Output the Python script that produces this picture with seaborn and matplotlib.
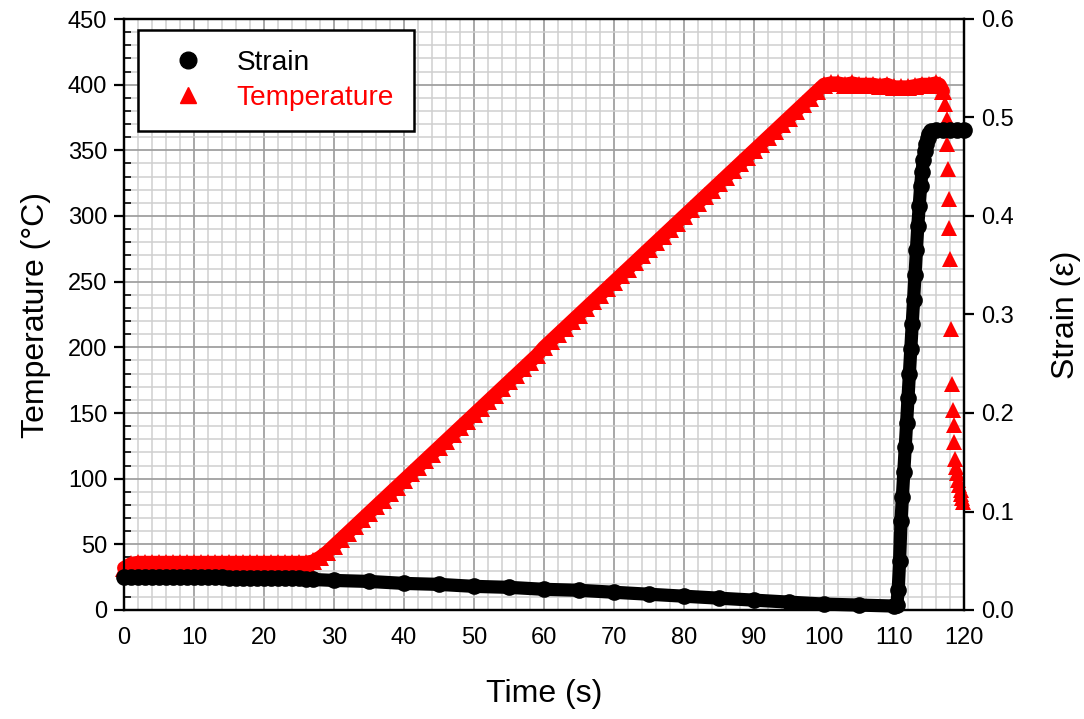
import matplotlib
matplotlib.use("Agg")
import matplotlib.pyplot as plt
from matplotlib.lines import Line2D
from matplotlib.ticker import MultipleLocator, FormatStrFormatter
import numpy as np
import pandas as pd
import seaborn as sns

# ---------------- data ----------------
temp_time = [0, 1, 2, 3, 4, 5, 6, 7, 8, 9, 10, 11, 12, 13, 14, 15, 16, 17, 18, 19,
             20, 21, 22, 23, 24, 25, 26, 27, 28, 29, 30, 31, 32, 33, 34, 35, 36, 37, 38, 39,
             40, 41, 42, 43, 44, 45, 46, 47, 48, 49, 50, 51, 52, 53, 54, 55, 56, 57, 58, 59,
             60, 61, 62, 63, 64, 65, 66, 67, 68, 69, 70, 71, 72, 73, 74, 75, 76, 77, 78, 79,
             80, 81, 82, 83, 84, 85, 86, 87, 88, 89, 90, 91, 92, 93, 94, 95, 96, 97, 98, 99,
             100, 101, 102, 103, 104, 105, 106, 107, 108, 109, 110, 111, 112, 113, 114, 115, 116,
             116.5, 117.0, 117.25, 117.5, 117.6, 117.7, 117.8, 117.9, 118.0, 118.2, 118.3,
             118.4, 118.5, 118.6, 118.75, 118.9, 119.0, 119.2, 119.35, 119.5, 119.6, 119.75, 119.85]
temp_vals = [32, 35, 36, 36, 36, 36, 36, 36, 36, 36, 36, 36, 36, 36, 36, 36, 36, 36, 36, 36,
             36, 36, 36, 36, 36, 36, 36, 37, 40, 44, 49, 54, 59, 64, 69, 74, 79, 84, 89, 94,
             99, 104, 109, 114, 119, 124, 129, 134, 139, 144, 149, 154, 159, 164, 169, 174, 179, 184, 189, 194,
             200, 205, 210, 215, 220, 225, 230, 235, 240, 245, 250, 255, 260, 265, 270, 275, 280, 285, 290, 295,
             300, 305, 310, 315, 320, 325, 330, 335, 340, 345, 350, 355, 360, 365, 370, 375, 380, 385, 390, 395,
             400, 401, 401, 400, 401, 400, 400, 400, 399, 400, 398, 398, 398, 399, 400, 400, 401,
             400, 395, 385, 374, 355, 336, 313, 291, 267, 214, 172,
             152, 141, 128, 115, 109, 104, 99, 95, 91, 88, 85, 82]

strain_time = [0, 1, 2, 3, 4, 5, 6, 7, 8, 9, 10, 11, 12, 13, 14, 15, 16, 17, 18, 19,
               20, 21, 22, 23, 24, 25, 26, 27, 30, 35, 40, 45, 50, 55, 60, 65, 70, 75, 80, 85,
               90, 95, 100, 105, 110, 110.4, 110.6, 110.8, 111.0, 111.2, 111.4, 111.6, 111.8,
               112.0, 112.2, 112.4, 112.6, 112.8, 113.0, 113.2, 113.4, 113.6, 113.8, 114.0,
               114.2, 114.4, 114.6, 114.8, 115.0, 115.3, 116, 117, 118, 119, 120]
strain_vals = [0.033, 0.033, 0.033, 0.033, 0.033, 0.033, 0.033, 0.033, 0.033, 0.033,
               0.033, 0.033, 0.033, 0.033, 0.033, 0.032, 0.032, 0.032, 0.032, 0.032,
               0.032, 0.032, 0.032, 0.032, 0.032, 0.032, 0.031, 0.031, 0.030, 0.029,
               0.027, 0.026, 0.024, 0.023, 0.021, 0.020, 0.018, 0.016, 0.014, 0.012,
               0.010, 0.008, 0.006, 0.005, 0.004, 0.005, 0.020, 0.050, 0.090, 0.115,
               0.140, 0.165, 0.190, 0.215, 0.240, 0.265, 0.290, 0.315, 0.340, 0.365,
               0.390, 0.410, 0.430, 0.445, 0.457, 0.466, 0.473, 0.479, 0.483, 0.486,
               0.487, 0.487, 0.487, 0.487, 0.487]

temp_df = pd.DataFrame({"Time": temp_time, "Temperature": temp_vals})
strain_df = pd.DataFrame({"Time": strain_time, "Strain": strain_vals})
# continuous part (dense band) and quench tail (separate triangles)
temp_band = temp_df[temp_df["Time"] <= 117.0]
temp_tail = temp_df[temp_df["Time"] >= 117.0]

# ---------------- style ----------------
sns.set_style("white")
plt.rcParams["font.family"] = ["Liberation Sans", "DejaVu Sans"]
plt.rcParams["text.color"] = "black"
plt.rcParams["axes.labelcolor"] = "black"

fig = plt.figure(figsize=(10.84, 7.19), dpi=100)
ax = fig.add_axes([124 / 1084, 1 - 610 / 719, 840 / 1084, 591 / 719])
ax2 = ax.twinx()

RED = "#ff0000"

sns.lineplot(data=temp_band, x="Time", y="Temperature", ax=ax, color=RED,
             marker="^", markersize=13, markeredgewidth=0, linewidth=10,
             sort=False, clip_on=False, zorder=3)
sns.lineplot(data=temp_tail, x="Time", y="Temperature", ax=ax, color=RED,
             marker="^", markersize=12, markeredgewidth=0, linestyle="none",
             sort=False, clip_on=False, zorder=3)
sns.lineplot(data=strain_df, x="Time", y="Strain", ax=ax2, color="black",
             marker="o", markersize=12, markeredgewidth=0, linewidth=9.5,
             sort=False, clip_on=False, zorder=3)

ax.set_xlim(0, 120)
ax.set_ylim(0, 450)
ax2.set_ylim(0, 0.6)

ax.xaxis.set_major_locator(MultipleLocator(10))
ax.xaxis.set_minor_locator(MultipleLocator(2))
ax.yaxis.set_major_locator(MultipleLocator(50))
ax.yaxis.set_minor_locator(MultipleLocator(10))
ax2.yaxis.set_major_locator(MultipleLocator(0.1))
ax2.yaxis.set_major_formatter(FormatStrFormatter("%.1f"))

ax.set_axisbelow(True)
ax.grid(which="major", color="#a0a0a0", linewidth=1.3)
ax.grid(which="minor", color="#cfcfcf", linewidth=1.1)

for a in (ax, ax2):
    for s in a.spines.values():
        s.set_linewidth(1.6)
        s.set_color("black")
        s.set_visible(True)

ax.tick_params(axis="both", which="major", direction="out", length=7, width=1.6,
               labelsize=17, pad=5, colors="black", top=False, right=False)
ax.tick_params(axis="both", which="minor", direction="in", length=5, width=1.4,
               top=False, right=False)
ax2.tick_params(axis="y", which="major", direction="out", length=7, width=1.6,
                labelsize=17, pad=5, colors="black")

ax.set_xlabel("Time (s)", fontsize=23, labelpad=22, color="black")
ax.set_ylabel("Temperature (°C)", fontsize=23, labelpad=12, color="black")
ax2.set_ylabel("Strain (ε)", fontsize=23, labelpad=27, color="black")

handles = [Line2D([], [], marker="o", color="black", linestyle="none", markersize=12),
           Line2D([], [], marker="^", color=RED, linestyle="none", markersize=12)]
leg = ax2.legend(handles, ["Strain", "Temperature"], loc="upper left",
                 bbox_to_anchor=(14 / 840, 580 / 591), borderaxespad=0,
                 fontsize=20.2, frameon=True, fancybox=False, edgecolor="black",
                 framealpha=1, borderpad=0.72, handlelength=2.1, handletextpad=0.7,
                 labelspacing=0.32)
leg.get_frame().set_linewidth(1.8)
leg.get_texts()[0].set_color("black")
leg.get_texts()[1].set_color(RED)

fig.savefig("out.png", dpi=100)
